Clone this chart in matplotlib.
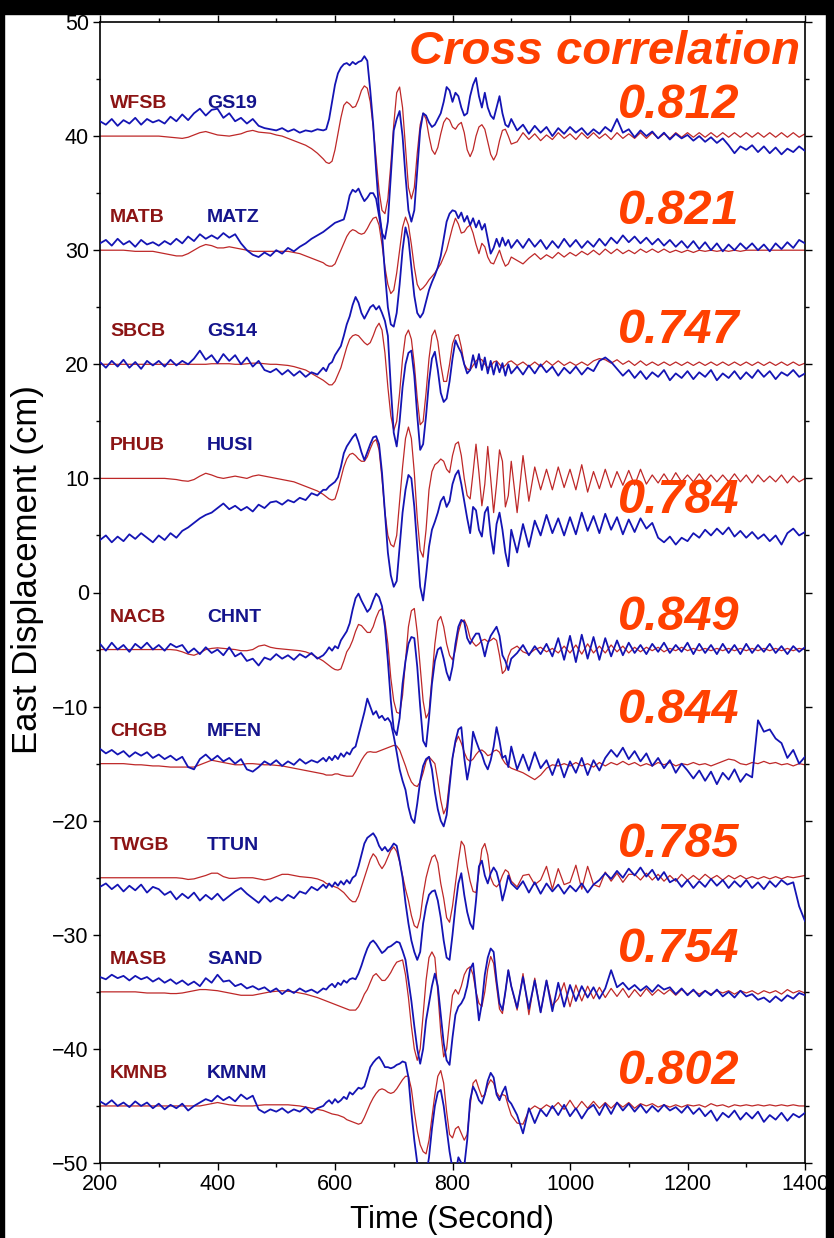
import numpy as np
import matplotlib
matplotlib.use('Agg')
import matplotlib.pyplot as plt
from matplotlib.patches import Rectangle
from matplotlib.ticker import MultipleLocator

plt.rcParams['font.family'] = ['Liberation Sans', 'DejaVu Sans']

# sample times: 10 s outside the main pulse, 5 s inside it
time = np.concatenate([np.arange(200, 581, 10), np.arange(585, 901, 5), np.arange(910, 1401, 10)])

baselines = [40, 30, 20, 10, -5, -15, -25, -35, -45]
red_names = ['WFSB', 'MATB', 'SBCB', 'PHUB', 'NACB', 'CHGB', 'TWGB', 'MASB', 'KMNB']
blue_names = ['GS19', 'MATZ', 'GS14', 'HUSI', 'CHNT', 'MFEN', 'TTUN', 'SAND', 'KMNM']
corr = ['0.812', '0.821', '0.747', '0.784', '0.849', '0.844', '0.785', '0.754', '0.802']

# displacement relative to each trace's baseline (cm)
wfsb = [0, 0, 0, 0, 0, 0, 0, 0, 0, 0,
        0, -0.05, -0.1, -0.15, -0.2, -0.1, 0.1, 0.3, 0.4, 0.25,
        0.1, 0.05, 0, 0.1, 0.2, 0.4, 0.5, 0.35, 0.3, 0.25,
        0.1, 0, -0.2, -0.4, -0.6, -0.8, -1.1, -1.5, -2.0,
        -2.3, -2.4, -2.2, -1.2, 0.2, 1.6, 2.7, 3.0,
        2.8, 2.5, 2.6, 3.2, 4.0, 4.4, 4.2, 3.0,
        0.8, -2.0, -4.8, -6.5, -6.8, -5.5, -2.5, 1.0,
        3.8, 4.3, 2.5, -1.0, -4.5, -5.5, -4.5, -1.5,
        1.0, 2.0, 1.5, 0.0, -1.2, -1.6, -1.0, 0.2,
        1.2, 1.6, 1.4, 0.8, 0.6, 1.0, 1.2, 0.3,
        -1.2, -1.8, -1.2, 0.0, 0.8, 1.0, 0.6, -0.5,
        -1.6, -2.1, -1.6, -0.4, 0.5, 0.6, 0.0, -0.7,
        -0.5, 0.3, -0.3, 0.2, -0.4, 0.1, -0.3, 0.3, -0.2, 0.2,
        -0.3, 0.3, -0.2, 0.3, -0.2, 0.2, -0.3, 0.3, -0.2, 0.2,
        -0.2, 0.3, -0.2, 0.3, -0.2, 0.2, -0.2, 0.3, -0.1, 0.3,
        -0.1, 0.3, -0.1, 0.3, -0.1, 0.3, -0.1, 0.3, -0.1, 0.3,
        -0.1, 0.3, -0.1, 0.3, -0.1, 0.3, -0.1, 0.3, -0.1, 0.2]
gs19 = [1.3, 1.0, 1.5, 0.9, 1.4, 1.1, 1.6, 1.0, 1.5, 1.2,
        1.4, 1.1, 1.7, 1.3, 1.9, 1.4, 2.0, 2.4, 1.8, 2.3,
        2.4, 1.6, 2.0, 1.3, 1.6, 1.1, 1.5, 0.9, 0.7, 0.6,
        0.5, 0.7, 0.4, 0.6, 0.3, 0.5, 0.4, 0.6, 0.5,
        0.6, 1.5, 3.0, 4.5, 5.5, 6.0, 6.3, 6.4,
        6.2, 6.5, 6.3, 6.5, 6.6, 7.0, 6.6, 4.0,
        1.0, -3.0, -6.5, -8.5, -9.0, -7.5, -3.5, 0.5,
        1.5, 2.2, 0.0, -3.5, -6.5, -7.5, -6.5, -3.0,
        0.5, 2.0, 1.8, 1.2, 0.8, 1.0, 1.5, 2.0,
        3.0, 4.3, 4.0, 3.0, 3.8, 3.5, 2.5, 1.8,
        2.0, 3.5, 4.5, 5.1, 3.5, 2.5, 3.8, 2.5,
        1.8, 1.5, 2.5, 3.5, 2.0, 1.0, 0.8, 1.5,
        0.5, 1.0, 0.2, 0.9, 0.3, 0.8, 0.0, 0.7, 0.2, 0.8,
        0.3, 0.7, 0.1, 0.6, 0.2, 0.8, 0.4, 1.5, 0.3, 0.6,
        -0.1, 0.5, 0.0, 0.4, -0.2, 0.3, -0.3, 0.2, -0.2, 0.1,
        -0.4, 0.0, -0.5, -0.1, -0.6, -0.2, -0.8, -1.5, -0.9, -1.2,
        -0.8, -1.4, -0.9, -1.5, -1.0, -1.6, -1.1, -1.4, -0.9, -1.3]

matb = [0, 0, 0, 0, 0, -0.05, -0.1, -0.1, -0.1, -0.1,
        -0.2, -0.3, -0.4, -0.5, -0.5, -0.3, 0.0, 0.3, 0.5, 0.4,
        0.2, 0.2, 0.3, 0.2, 0.1, 0.0, -0.1, -0.1, -0.1, -0.1,
        -0.1, -0.1, -0.1, -0.2, -0.3, -0.5, -0.7, -0.9, -1.1,
        -1.3, -1.4, -1.4, -1.2, -0.6, 0.0, 0.6, 1.2,
        1.6, 1.8, 1.7, 1.5, 1.4, 1.5, 1.9, 2.4,
        2.8, 2.9, 2.2, 0.5, -1.5, -3.0, -3.8, -3.5,
        -2.0, 0.0, 2.0, 2.9, 2.2, 0.5, -1.5, -3.0,
        -3.5, -3.3, -3.0, -2.6, -2.3, -2.0, -1.6, -1.2,
        -0.6, 0.0, 1.0, 2.0, 2.8, 2.3, 1.5, 1.6,
        2.0, 2.2, 1.5, 0.5, -0.3, 0.6, 0.3, -0.6,
        -1.1, -1.2, -0.6, 0.0, -0.8, -1.4, -1.2, -0.6,
        -0.9, -1.2, -0.7, -0.3, -0.8, -0.4, -0.7, -0.2, -0.6, -0.2,
        -0.5, -0.1, -0.4, 0.0, -0.4, 0.1, -0.3, 0.1, -0.3, 0.0,
        -0.3, 0.1, -0.2, 0.1, -0.2, 0.1, -0.2, 0.0, -0.2, 0.0,
        -0.2, 0.0, -0.1, 0.0, -0.1, 0.0, -0.1, 0.0, -0.1, 0.0,
        0, 0, 0, 0, 0, 0, 0, 0, 0, 0]
matz = [0.6, 0.9, 0.4, 1.0, 0.5, 0.8, 0.3, 0.9, 0.5, 0.7,
        0.4, 0.8, 0.5, 1.0, 0.6, 1.2, 0.8, 1.4, 1.0, 1.3,
        1.0, 1.5, 1.1, 1.4, 0.6, 0.0, -0.4, -0.6, -0.2, -0.5,
        0.0, -0.3, 0.2, -0.1, 0.3, 0.6, 1.0, 1.3, 1.6,
        1.8, 2.0, 2.2, 2.4, 2.5, 2.6, 2.7, 3.6,
        4.8, 5.3, 5.1, 5.4, 4.8, 4.3, 4.6, 5.0,
        5.0, 4.5, 3.0, 1.5, -2.0, -5.0, -6.5, -6.7,
        -5.5, -3.0, 0.0, 2.0, 1.0, -1.5, -4.0, -5.5,
        -5.9, -5.5, -4.5, -3.5, -2.8, -2.2, -1.5, -0.5,
        1.0, 2.5, 3.2, 3.5, 3.4, 2.8, 3.3, 2.5,
        3.0, 2.2, 2.8, 2.0, 2.6, 1.8, 2.3, 1.0,
        -0.3, 0.2, 1.0, 0.3, 1.1, 0.4, 0.9, 0.2,
        0.9, 0.2, 1.0, 0.3, 0.9, 0.1, 0.8, 0.2, 1.0, 0.3,
        0.9, 0.2, 0.8, 0.3, 1.0, 0.4, 1.1, 0.6, 1.3, 0.7,
        1.2, 0.6, 1.1, 0.5, 1.0, 0.4, 0.9, 0.3, 0.8, 0.2,
        0.8, 0.1, 0.7, 0.0, 0.6, -0.1, 0.5, 0.0, 0.6, 0.1,
        0.6, 0.0, 0.5, -0.1, 0.6, 0.1, 0.7, 0.2, 0.9, 0.6]

sbcb = [0, 0, 0, 0, 0, 0, 0, 0, 0, 0,
        0, 0, 0, 0, 0, 0, 0, 0, 0, 0.05,
        0.05, 0.05, 0.05, 0.0, 0.0, 0.05, 0.1, 0.1, 0.05, 0.0,
        0.0, -0.05, -0.1, -0.2, -0.35, -0.5, -0.8, -1.1, -1.4,
        -1.6, -1.8, -1.8, -1.5, -0.9, -0.3, 0.6, 1.5,
        2.2, 2.5, 2.6, 2.5, 2.2, 1.9, 1.7, 1.9,
        2.5, 3.2, 3.6, 3.0, 1.0, -2.0, -4.5, -5.8,
        -5.0, -2.5, 0.5, 2.5, 3.0, 2.2, 0.0, -3.0,
        -5.3, -5.0, -2.5, 0.5, 2.5, 3.0, 2.0, 0.0,
        -1.5, -1.5, 0.0, 1.8, 2.5, 2.6, 1.5, 0.0,
        -0.4, -0.5, -0.1, 0.3, 0.5, 0.4, 0.0, -0.3,
        -0.2, 0.2, 0.3, 0.0, -0.3, -0.1, 0.2, 0.3,
        -0.1, 0.2, -0.2, 0.2, -0.2, 0.3, -0.1, 0.3, -0.1, 0.2,
        -0.1, 0.2, -0.1, 0.3, 0.5, 0.4, 0.1, 0.4, 0.0, 0.3,
        -0.1, 0.3, -0.1, 0.2, -0.1, 0.2, -0.1, 0.2, -0.1, 0.2,
        -0.1, 0.2, -0.1, 0.2, -0.1, 0.2, -0.1, 0.2, -0.1, 0.2,
        -0.1, 0.2, -0.1, 0.2, -0.1, 0.2, -0.1, 0.2, -0.1, 0.1]
gs14 = [0.2, -0.3, 0.3, -0.2, 0.4, -0.3, 0.2, -0.4, 0.3, -0.1,
        0.3, -0.2, 0.4, -0.1, 0.3, 0.0, 0.5, 1.2, 0.4, 0.8,
        0.1, 0.9, 0.3, 0.8, 0.0, 0.6, -0.2, 0.3, -0.5, -0.7,
        -0.4, -0.9, -0.5, -1.0, -0.6, -1.1, -0.7, -0.9, -0.3,
        -0.6, 0.0, 0.2, 0.8, 1.2, 1.6, 2.5, 3.5,
        4.2, 5.2, 5.9, 5.4, 4.5, 4.0, 4.5, 5.0,
        5.2, 4.8, 5.1, 4.5, 3.8, 2.5, -2.0, -6.0,
        -7.2, -5.0, -2.0, 0.0, 1.0, 1.2, -1.0, -4.5,
        -7.5, -7.0, -4.5, -1.5, 0.5, 1.1, -0.5, -2.5,
        -3.3, -3.0, -1.5, 0.5, 2.1, 1.5, 1.0, 0.0,
        -0.8, -0.5, 0.8, -0.3, 0.9, -0.5, 0.6, -0.8,
        0.3, -0.9, 0.2, -0.7, 0.1, -1.0, 0.0, -0.8,
        -0.2, -0.9, -0.1, -0.8, 0.0, -0.7, -0.2, -1.0, -0.3, -0.8,
        -0.2, -0.9, -0.3, -0.6, 0.3, 0.6, 0.2, -0.4, -1.0, -0.5,
        -1.2, -0.6, -1.3, -0.7, -1.1, -0.5, -1.4, -0.8, -1.2, -0.6,
        -1.3, -0.7, -1.1, -0.5, -1.4, -0.8, -1.2, -0.6, -1.3, -0.7,
        -1.2, -0.5, -1.1, -0.6, -1.3, -0.7, -1.0, -0.5, -1.1, -0.8]

phub = [0, 0, 0, 0, 0, 0, 0, 0, 0, 0,
        0, 0, -0.05, -0.1, -0.2, -0.25, -0.1, 0.2, 0.45, 0.3,
        0.1, 0.0, 0.1, 0.2, 0.1, 0.0, 0.2, 0.3, 0.2, 0.1,
        0.0, -0.1, -0.2, -0.3, -0.5, -0.7, -0.9, -1.1, -1.4,
        -1.6, -1.8, -1.9, -1.8, -1.0, 0.0, 1.0, 1.7,
        2.1, 2.2, 2.0, 1.7, 1.5, 1.5, 1.9, 2.6,
        3.2, 3.4, 2.5, 0.0, -3.0, -5.0, -5.8, -6.0,
        -5.0, -2.0, 1.0, 3.5, 4.5, 3.5, 0.5, -3.5,
        -6.3, -6.9, -4.5, -1.0, 0.6, 1.2, 1.4, 1.7,
        1.5, 0.8, 0.5, 2.0, 3.0, 3.2, 2.0, 0.0,
        -1.5, -1.8, 0.5, 3.0, 0.5, -2.4, -0.5, 2.8,
        0.0, -3.0, -0.5, 2.5, 1.5, -2.5, -1.5, 1.5,
        -3.0, 2.0, -2.0, 1.0, -1.0, 0.8, -1.0, 1.0, -0.8, 0.8,
        -1.0, 1.2, -1.2, 0.6, -0.9, 0.8, -0.8, 0.6, -0.6, 0.7,
        -0.6, 0.8, -0.5, 0.3, -0.4, 0.4, -0.4, 0.5, -0.3, 0.3,
        -0.3, 0.4, -0.3, 0.3, -0.3, 0.3, -0.3, 0.4, -0.3, 0.3,
        -0.4, 0.3, -0.3, 0.2, -0.3, 0.3, -0.4, 0.2, -0.3, 0.0]
husi = [-5.4, -5.0, -5.6, -5.1, -5.5, -4.9, -5.3, -4.8, -5.2, -5.6,
        -5.0, -5.4, -4.8, -5.2, -4.6, -4.3, -3.9, -3.5, -3.2, -3.0,
        -2.6, -2.2, -2.7, -2.4, -2.8, -2.5, -2.9, -2.3, -2.6, -2.1,
        -2.0, -2.3, -1.9, -2.1, -1.7, -1.9, -1.3, -1.5, -1.0,
        -1.0, -0.7, -0.5, -0.3, 0.1, 1.0, 2.2, 2.8,
        3.2, 3.6, 3.9, 3.2, 2.3, 1.6, 2.3, 3.0,
        3.6, 3.7, 3.0, 0.5, -3.0, -6.5, -8.5, -9.5,
        -9.0, -6.0, -3.0, -1.0, 0.3, 0.0, -2.5, -6.0,
        -9.5, -10.7, -8.5, -6.0, -4.5, -3.8, -3.0, -2.0,
        -1.6, -2.5, -2.0, -0.5, 0.3, 0.7, -0.5, -2.0,
        -3.5, -4.8, -2.5, -2.8, -4.5, -5.1, -3.0, -2.5,
        -5.0, -6.6, -4.0, -3.0, -4.5, -6.5, -7.7, -4.5,
        -6.5, -4.0, -6.0, -3.7, -5.0, -3.2, -4.8, -3.5, -5.0, -3.4,
        -4.9, -3.0, -4.6, -3.3, -4.8, -3.1, -4.5, -3.4, -4.9, -3.6,
        -4.7, -3.5, -4.4, -3.9, -5.2, -5.6, -5.1, -5.8, -5.2, -5.5,
        -4.8, -5.2, -4.5, -5.0, -4.4, -4.9, -4.3, -5.1, -4.6, -5.2,
        -4.7, -5.3, -4.9, -5.5, -5.0, -5.8, -4.8, -4.4, -5.0, -4.7]

nacb = [0, 0, 0, 0, 0, 0, 0, 0, 0, 0,
        0, 0, 0, -0.05, -0.2, -0.4, -0.5, -0.3, 0.0, 0.1,
        0.15, 0.1, 0.05, 0.0, -0.1, -0.1, 0.0, 0.3, 0.4, 0.2,
        0.1, 0.05, 0.0, -0.05, -0.1, -0.2, -0.4, -0.7, -1.0,
        -1.2, -1.4, -1.6, -1.75, -1.8, -1.7, -1.0, -0.2,
        0.2, 0.8, 1.6, 2.2, 2.1, 1.8, 1.5, 1.5,
        2.0, 2.8, 3.4, 3.6, 2.5, 0.5, -2.5, -4.5,
        -5.5, -5.6, -4.0, -1.0, 2.0, 3.4, 3.6, 1.5,
        -1.5, -4.5, -6.0, -5.5, -2.5, 0.5, 2.5, 2.9,
        2.0, 0.5, -0.5, -0.9, 0.0, 1.5, 2.4, 2.6,
        2.0, 1.0, 0.6, 0.3, 0.5, 0.8, 0.9, 0.7,
        0.8, 1.0, 0.8, -0.5, -2.1, -1.8, -0.6, 0.0,
        0.3, -0.2, -0.4, 0.0, 0.2, -0.2, 0.1, -0.3, 0.3, -0.3,
        0.4, -0.4, 0.5, -0.3, 0.3, -0.3, 0.4, -0.2, 0.3, -0.3,
        0.2, -0.2, 0.2, -0.1, 0.2, -0.2, 0.1, -0.1, 0.2, -0.1,
        0.1, -0.1, 0.1, -0.1, 0.1, -0.1, 0.1, -0.1, 0.1, -0.1,
        0.1, -0.1, 0.1, -0.1, 0.1, -0.1, 0.1, -0.1, 0.1, 0.0]
chnt = [0.5, -0.1, 0.6, 0.0, 0.4, -0.2, 0.5, 0.1, 0.6, 0.0,
        0.4, -0.1, 0.5, 0.2, 0.4, -0.3, 0.1, -0.4, 0.2, -0.3,
        0.0, -0.5, 0.2, -0.6, -0.3, -1.0, -0.8, -1.4, -0.7, -0.9,
        -0.4, -0.8, -0.5, -0.9, -0.4, -0.7, -0.3, -0.8, -0.5,
        -0.2, 0.2, -0.1, 0.3, 0.1, 0.8, 1.2, 1.6,
        2.3, 3.5, 4.5, 4.9, 4.3, 3.8, 3.3, 3.6,
        4.3, 4.9, 4.6, 3.8, 2.0, -1.0, -4.5, -7.0,
        -7.5, -6.0, -3.0, -1.0, 0.5, 1.1, 1.0, -1.5,
        -5.0, -8.0, -8.5, -6.0, -3.0, -1.0, 0.0, 0.2,
        -0.8, -2.0, -2.7, -1.5, 0.5, 2.0, 2.6, 2.4,
        1.0, 0.5, 1.0, 1.4, 1.4, 0.5, -0.6, 0.5,
        1.2, 1.6, 2.0, 1.2, -0.5, -1.0, -1.8, -0.8,
        -0.3, 0.4, -0.5, 0.3, -0.4, 0.5, -0.6, 1.0, -0.9, 1.2,
        -1.1, 1.3, -0.8, 1.1, -0.9, 1.0, -0.6, 0.8, -0.5, 0.6,
        -0.3, 0.4, -0.4, 0.5, -0.2, 0.6, -0.3, 0.4, -0.2, 0.6,
        -0.4, 0.5, -0.3, 0.4, -0.4, 0.5, -0.3, 0.4, -0.4, 0.5,
        -0.3, 0.4, -0.2, 0.5, -0.3, 0.3, -0.4, 0.3, -0.2, 0.2]

chgb = [0, 0, 0, 0, 0, -0.05, -0.1, -0.1, -0.15, -0.2,
        -0.2, -0.25, -0.3, -0.3, -0.3, -0.3, -0.3, -0.1, 0.1, 0.3,
        0.2, 0.1, 0.0, -0.1, -0.1, 0.0, 0.0, -0.05, -0.1, -0.1,
        -0.15, -0.2, -0.3, -0.4, -0.5, -0.6, -0.7, -0.8, -0.9,
        -1.0, -1.0, -1.0, -0.9, -0.9, -1.0, -1.05, -1.1,
        -1.1, -1.1, -0.7, -0.2, 0.3, 0.7, 1.0, 1.05,
        1.0, 1.0, 1.1, 1.2, 1.3, 1.4, 1.5, 1.6,
        1.55, 1.2, 0.5, -0.2, -1.0, -1.6, -1.9, -2.0,
        -1.6, -0.8, 0.2, 0.6, 0.3, 0.0, -1.5, -3.2,
        -4.4, -3.8, -1.5, 0.5, 1.8, 2.4, 1.8, 1.0,
        0.4, 0.2, 0.4, 0.8, 1.1, 1.2, 1.0, 0.7,
        0.8, 1.1, 1.2, 1.0, 0.4, 0.0, -0.2, -0.4,
        -0.6, -0.8, -1.1, -1.4, -1.0, -0.4, -0.1, -0.2, 0.0, -0.2,
        0.1, -0.2, 0.0, -0.3, 0.1, -0.2, 0.1, -0.1, 0.2, -0.1,
        0.1, -0.2, 0.0, -0.2, 0.1, -0.1, 0.1, -0.2, 0.0, -0.1,
        0.1, -0.1, 0.0, -0.2, 0.0, 0.2, 0.4, 0.3, 0.0, -0.1,
        0.1, 0.0, 0.2, 0.0, 0.1, -0.1, 0.0, -0.2, 0.0, -0.1]
mfen = [1.3, 0.9, 1.2, 0.8, 1.1, 0.6, 1.0, 0.7, 1.0, 0.5,
        0.8, 0.4, 0.7, 0.3, 0.6, -0.3, -0.5, 0.4, 0.8, 0.3,
        0.7, 0.2, 0.5, 0.0, 0.4, -0.5, -0.7, -0.3, 0.2, -0.1,
        0.3, -0.2, 0.2, -0.1, 0.4, 0.0, 0.3, 0.1, 0.5,
        0.2, 0.6, 0.3, 0.7, 0.4, 0.9, 0.6, 1.0,
        0.8, 1.3, 1.5, 2.5, 3.5, 4.5, 5.7, 5.0,
        4.3, 4.6, 4.0, 4.2, 3.8, 4.0, 3.6, 2.4,
        1.0, -0.5, -1.5, -2.3, -3.8, -4.8, -5.2, -3.5,
        -1.5, -0.2, 0.4, 0.6, -0.5, -2.5, -4.0, -5.0,
        -5.5, -4.5, -2.0, 0.5, 2.0, 3.0, 3.2, 0.5,
        -1.4, 0.0, 2.8, 2.0, 1.3, 0.8, 0.0, -0.5,
        0.3, 1.5, 3.2, 2.0, 0.5, 0.7, -0.3, 1.5,
        -0.5, 0.8, -0.6, 1.0, -0.4, 0.3, -1.0, 0.4, -1.2, 0.2,
        -0.8, 0.5, -1.0, 0.3, -0.6, 0.5, 1.2, 0.6, 1.4, 0.4,
        1.1, 0.2, 0.9, -0.2, 0.5, -0.4, 0.3, -0.8, 0.0, -0.6,
        -1.3, -0.6, -1.5, -0.7, -1.8, -0.8, -1.4, -0.5, -1.6, -0.9,
        -1.2, 3.8, 2.8, 3.0, 2.2, 1.8, 0.5, 1.2, 0.0, 0.6]

twgb = [0, 0, 0, 0, 0, 0, 0, 0, 0, 0,
        0, 0, 0, 0, -0.05, -0.15, -0.1, 0.05, 0.2, 0.4,
        0.4, 0.1, -0.05, -0.05, 0.0, 0.0, 0.0, -0.1, -0.2, -0.1,
        0.1, 0.3, 0.3, 0.2, 0.1, 0.05, 0.0, -0.1, -0.3,
        -0.5, -0.6, -0.7, -0.8, -0.9, -1.1, -1.3, -1.6,
        -1.9, -2.1, -2.1, -1.6, -0.8, 0.0, 0.8, 1.6,
        2.1, 1.8, 1.2, 0.8, 1.2, 1.8, 2.4, 2.7,
        2.3, 1.4, 0.2, -1.0, -2.0, -3.3, -4.2, -4.4,
        -3.5, -1.5, 0.0, 1.0, 1.8, 2.0, 1.3, -0.5,
        -1.8, -3.5, -3.9, -2.5, -0.5, 1.5, 3.2, 2.8,
        1.0, -0.3, -1.2, -1.3, 0.5, 2.5, 3.0, 2.0,
        0.0, -0.6, -0.8, -0.5, 0.2, 0.7, 0.5, -0.3,
        -0.8, 0.2, 0.3, -0.6, -0.2, 1.0, -1.0, 0.8, -0.6, -0.4,
        1.1, -1.0, 1.0, -0.6, -0.8, 0.5, -0.3, 0.4, -0.4, 0.3,
        0.3, -0.2, 0.4, -0.2, 0.3, -0.3, 0.2, -0.3, 0.3, -0.2,
        0.2, -0.2, 0.3, -0.1, 0.2, -0.2, 0.2, -0.1, 0.2, -0.1,
        0.1, -0.1, 0.1, -0.1, 0.1, -0.1, 0.1, 0.0, 0.1, 0.2]
ttun = [-0.8, -0.5, -1.0, -0.6, -1.2, -0.7, -1.1, -0.6, -1.3, -0.8,
        -1.0, -1.5, -1.2, -1.9, -1.4, -1.8, -1.3, -2.0, -1.5, -1.9,
        -1.4, -2.0, -1.6, -1.2, -0.9, -1.4, -1.8, -2.2, -1.6, -2.1,
        -1.7, -2.0, -1.5, -1.8, -1.2, -1.4, -0.8, -1.1, -0.6,
        -0.9, -0.5, -0.8, -0.4, -0.7, -0.3, -0.6, -0.2,
        -0.5, 0.0, 0.2, 1.0, 2.0, 3.0, 3.5, 3.7,
        3.9, 3.5, 2.8, 2.4, 2.7, 2.3, 2.6, 3.0,
        2.8, 1.5, 0.0, -2.2, -4.0, -5.5, -6.5, -7.2,
        -6.5, -4.0, -2.5, -1.5, -1.2, -1.1, -2.0, -3.5,
        -5.5, -7.0, -7.2, -5.0, -2.5, -0.5, 0.4, -1.5,
        -3.0, -4.0, -4.5, -2.0, 1.0, 1.5, 0.2, -0.5,
        0.4, 0.9, 0.5, -0.5, -2.0, -1.0, 0.2, -0.5,
        -1.0, -0.3, -1.3, -0.4, -1.4, -0.5, -1.2, -0.6, -1.4, -0.7,
        -1.2, -0.5, -1.3, -0.6, -0.2, 0.4, -0.1, 0.6, 0.0, 0.8,
        0.2, 0.9, 0.1, 0.7, -0.2, 0.5, -0.4, -0.1, -0.8, -0.2,
        -0.9, -0.3, -0.8, -0.1, -0.7, -0.2, -0.9, -0.3, -0.8, -0.2,
        -0.9, -0.4, -1.0, -0.3, -0.8, -0.2, -0.6, -0.4, -2.5, -3.8]

masb = [0, 0, 0, 0, 0, 0, 0, -0.05, -0.1, -0.1,
        -0.1, -0.1, -0.15, -0.15, -0.1, 0.0, 0.1, 0.2, 0.2, 0.15,
        0.1, 0.0, -0.1, -0.2, -0.3, -0.3, -0.3, -0.2, -0.1, 0.0,
        0.05, 0.1, 0.05, 0.0, -0.1, -0.2, -0.35, -0.5, -0.7,
        -0.8, -0.9, -1.0, -1.1, -1.2, -1.3, -1.4, -1.5,
        -1.6, -1.6, -1.6, -1.3, -0.8, -0.2, 0.2, 0.8,
        1.4, 1.6, 1.3, 1.0, 1.0, 1.3, 1.7, 2.2,
        2.6, 2.7, 2.8, 1.5, -0.5, -3.0, -5.0, -6.0,
        -5.0, -2.0, 1.0, 3.0, 3.5, 3.0, 0.0, -3.5,
        -5.7, -5.0, -2.5, -0.3, 0.2, -0.2, 0.5, 1.5,
        2.0, 2.2, 1.5, 0.0, -1.0, -1.3, 0.0, 2.0,
        3.1, 2.5, 0.5, -1.5, -1.9, 0.0, 1.9, 0.5,
        -1.6, 1.6, -2.0, 1.2, -1.8, 1.0, -1.2, -0.6, 0.8, -1.3,
        0.6, -0.8, 0.5, -0.6, 0.4, -0.5, 0.3, -0.4, 0.3, -0.5,
        0.2, -0.4, 0.3, -0.3, 0.2, -0.2, 0.2, -0.3, 0.2, -0.2,
        0.1, -0.2, 0.1, -0.2, 0.1, -0.1, 0.1, -0.2, 0.1, -0.1,
        0.1, -0.2, 0.1, -0.1, 0.1, -0.2, 0.2, -0.1, 0.1, -0.1]
sand = [1.3, 1.1, 1.5, 1.2, 1.4, 1.0, 1.4, 1.1, 1.3, 0.9,
        1.2, 0.8, 1.1, 0.7, 1.0, 0.6, 0.9, 0.5, 1.2, 0.8,
        1.5, 0.9, 1.0, 0.5, 0.7, 0.3, 0.5, 0.2, 0.4, 0.0,
        0.3, -0.2, 0.2, -0.1, 0.3, 0.0, 0.2, -0.1, 0.3,
        0.2, 0.5, 0.7, 0.4, 0.8, 0.6, 1.0, 0.8,
        1.1, 1.2, 1.1, 1.6, 2.3, 3.1, 3.8, 4.3,
        4.5, 4.2, 3.8, 3.4, 3.6, 3.9, 4.0, 4.2,
        4.4, 4.3, 3.6, 2.8, 1.0, -0.8, -3.0, -5.0,
        -6.3, -5.0, -2.5, -1.0, 0.5, 1.6, 0.5, -2.0,
        -4.5, -6.0, -6.4, -4.0, -2.0, -1.3, -1.0, -0.5,
        0.5, 2.0, 2.5, 0.0, -2.5, -1.0, 1.5, 3.0,
        3.8, 3.5, 1.0, -1.0, -1.6, 0.0, 1.9, 0.5,
        -1.4, 1.3, -1.5, 1.0, -1.8, 1.0, -1.7, 0.8, -1.3, 0.6,
        -0.8, 0.5, -0.5, 0.4, -0.6, 0.3, 1.9, 0.4, 0.8, 0.2,
        0.6, 0.1, 0.5, 0.0, 0.6, 0.2, 0.4, -0.2, 0.3, -0.3,
        0.2, -0.4, 0.1, -0.3, 0.2, -0.4, 0.0, -0.5, 0.1, -0.4,
        -0.2, -0.7, -0.5, -0.9, -0.4, -0.8, -0.3, -0.6, -0.1, -0.3]

kmnb = [0, 0, 0, 0, 0, 0, 0, 0, 0, 0,
        0, 0, 0, 0, 0, 0, 0, 0, 0.1, 0.2,
        0.3, 0.2, 0.1, 0.05, 0.0, 0.0, 0.0, 0.05, 0.1, 0.1,
        0.1, 0.1, 0.1, 0.05, 0.0, -0.1, -0.2, -0.3, -0.4,
        -0.5, -0.6, -0.7, -0.75, -0.8, -0.9, -1.0, -1.2,
        -1.3, -1.4, -1.5, -1.6, -1.5, -1.0, -0.4, 0.2,
        0.7, 1.1, 1.4, 1.5, 1.4, 1.2, 1.1, 1.2,
        1.5, 1.9, 2.3, 2.6, 2.6, 1.5, -0.5, -2.2,
        -3.4, -4.0, -4.2, -3.0, -1.0, 1.0, 2.6, 3.1,
        2.0, -0.5, -2.5, -2.8, -2.0, -1.8, -2.4, -3.0,
        -2.5, 0.0, 2.0, 2.3, 1.5, 0.8, 1.0, 1.8,
        2.3, 2.0, 1.2, 0.8, 1.0, 0.9, 0.0, -0.8,
        -1.5, -1.6, -0.4, 0.0, -0.3, 0.1, -0.2, 0.3, -0.3, 0.5,
        -0.3, 0.4, -0.2, 0.4, -0.2, 0.3, -0.2, 0.3, -0.1, 0.3,
        -0.2, 0.2, 0.0, 0.2, -0.1, 0.1, -0.1, 0.1, -0.1, 0.1,
        0.0, 0.1, -0.1, 0.2, 0.0, 0.1, -0.1, 0.1, 0.0, 0.1,
        0.0, 0.1, 0.0, 0.1, 0.0, 0.1, 0.0, 0.1, 0.0, 0.0]
kmnm = [0.4, 0.1, 0.5, 0.0, 0.3, -0.1, 0.4, 0.0, 0.3, -0.2,
        0.2, -0.3, 0.1, -0.2, 0.2, -0.4, 0.0, 0.3, 0.6, 0.4,
        0.9, 0.5, 0.8, 0.4, 1.0, 0.6, 0.9, -0.3, -0.6, -0.3,
        -0.5, -0.2, -0.6, -0.3, -0.5, -0.1, -0.6, -0.2, 0.0,
        0.3, 0.5, 0.2, 0.6, 0.3, 0.5, 0.8, 0.6,
        1.2, 1.0, 1.3, 1.6, 1.5, 1.7, 2.5, 3.4,
        3.8, 4.1, 4.3, 3.9, 3.4, 3.4, 3.3, 3.4,
        3.6, 3.7, 3.9, 3.8, 2.5, -0.5, -3.0, -5.0,
        -6.0, -6.5, -6.2, -4.5, -2.0, 0.0, 1.2, 1.4,
        0.0, -2.0, -4.0, -5.5, -6.0, -4.5, -5.0, -5.3,
        -3.0, 0.5, 1.7, 1.2, 0.5, 0.2, 1.0, 2.2,
        2.9, 2.5, 1.0, 0.5, 1.2, 1.7, 0.5, 0.2,
        -0.8, -2.4, -0.2, -1.5, -0.3, -0.9, 0.0, -0.8, 0.1, -0.9,
        -0.2, -1.1, -0.3, 0.1, -0.8, 0.2, -0.7, 0.3, -0.4, 0.2,
        -0.5, 0.1, -0.6, 0.0, -0.5, 0.1, -0.4, -0.1, -0.6, 0.0,
        -0.7, -0.2, -0.9, -0.4, -1.3, -0.6, -1.0, -0.4, -1.2, -0.6,
        -1.1, -0.5, -1.4, -0.8, -1.2, -0.6, -1.3, -0.7, -1.0, -0.6]

red_traces = [wfsb, matb, sbcb, phub, nacb, chgb, twgb, masb, kmnb]
blue_traces = [gs19, matz, gs14, husi, chnt, mfen, ttun, sand, kmnm]

# text positions (data units)
corr_y = [42.7, 33.35, 23.0, 8.1, -2.15, -10.3, -22.1, -31.3, -42.0]

RED = '#BE2828'
BLUE = '#1414B4'
RED_LABEL = '#8C1414'
BLUE_LABEL = '#14148C'
ORANGE = '#FF4000'

fig = plt.figure(figsize=(8.34, 12.38), dpi=100)
ax = fig.add_axes([100 / 834, 75 / 1238, 705 / 834, 1141 / 1238])

for base, r, b in zip(baselines, red_traces, blue_traces):
    ax.plot(time, base + np.array(r), color=RED, lw=0.9, zorder=2)
    ax.plot(time, base + np.array(b), color=BLUE, lw=1.3, zorder=3)

for base, rn, bn in zip(baselines, red_names, blue_names):
    ax.text(217, base + 2.85, rn, color=RED_LABEL, fontsize=14, fontweight='bold',
            ha='left', va='center', zorder=5)
    ax.text(382, base + 2.85, bn, color=BLUE_LABEL, fontsize=14, fontweight='bold',
            ha='left', va='center', zorder=5)

for y, c in zip(corr_y, corr):
    ax.text(1289, y, c, color=ORANGE, fontsize=35, fontweight='bold', style='italic',
            ha='right', va='center', zorder=6)
ax.text(1391, 47.4, 'Cross correlation', color=ORANGE, fontsize=34, fontweight='bold',
        style='italic', ha='right', va='center', zorder=6)

ax.set_xlim(200, 1400)
ax.set_ylim(-50, 50)
ax.xaxis.set_major_locator(MultipleLocator(200))
ax.xaxis.set_minor_locator(MultipleLocator(100))
ax.yaxis.set_major_locator(MultipleLocator(10))
ax.yaxis.set_minor_locator(MultipleLocator(5))
ax.tick_params(which='both', direction='out', top=True, right=True, width=1.0)
ax.tick_params(which='major', length=5, labelsize=15.5, pad=3)
ax.tick_params(which='minor', length=3)
for s in ax.spines.values():
    s.set_linewidth(1.2)

ax.set_xlabel('Time (Second)', fontsize=22.5)
ax.xaxis.set_label_coords(0.5, -0.037)
ax.set_ylabel('East Displacement (cm)', fontsize=25, va='center')
ax.yaxis.set_label_coords(-0.103, 0.52)

# black frame of the original picture
fig.add_artist(Rectangle((0, 1 - 14 / 1238), 1, 14 / 1238, transform=fig.transFigure,
                         color='black', zorder=10))
fig.add_artist(Rectangle((0, 0), 4 / 834, 1, transform=fig.transFigure, color='black', zorder=10))
fig.add_artist(Rectangle((826 / 834, 0), 8 / 834, 1, transform=fig.transFigure,
                         color='black', zorder=10))

fig.savefig('out.png', dpi=100)
